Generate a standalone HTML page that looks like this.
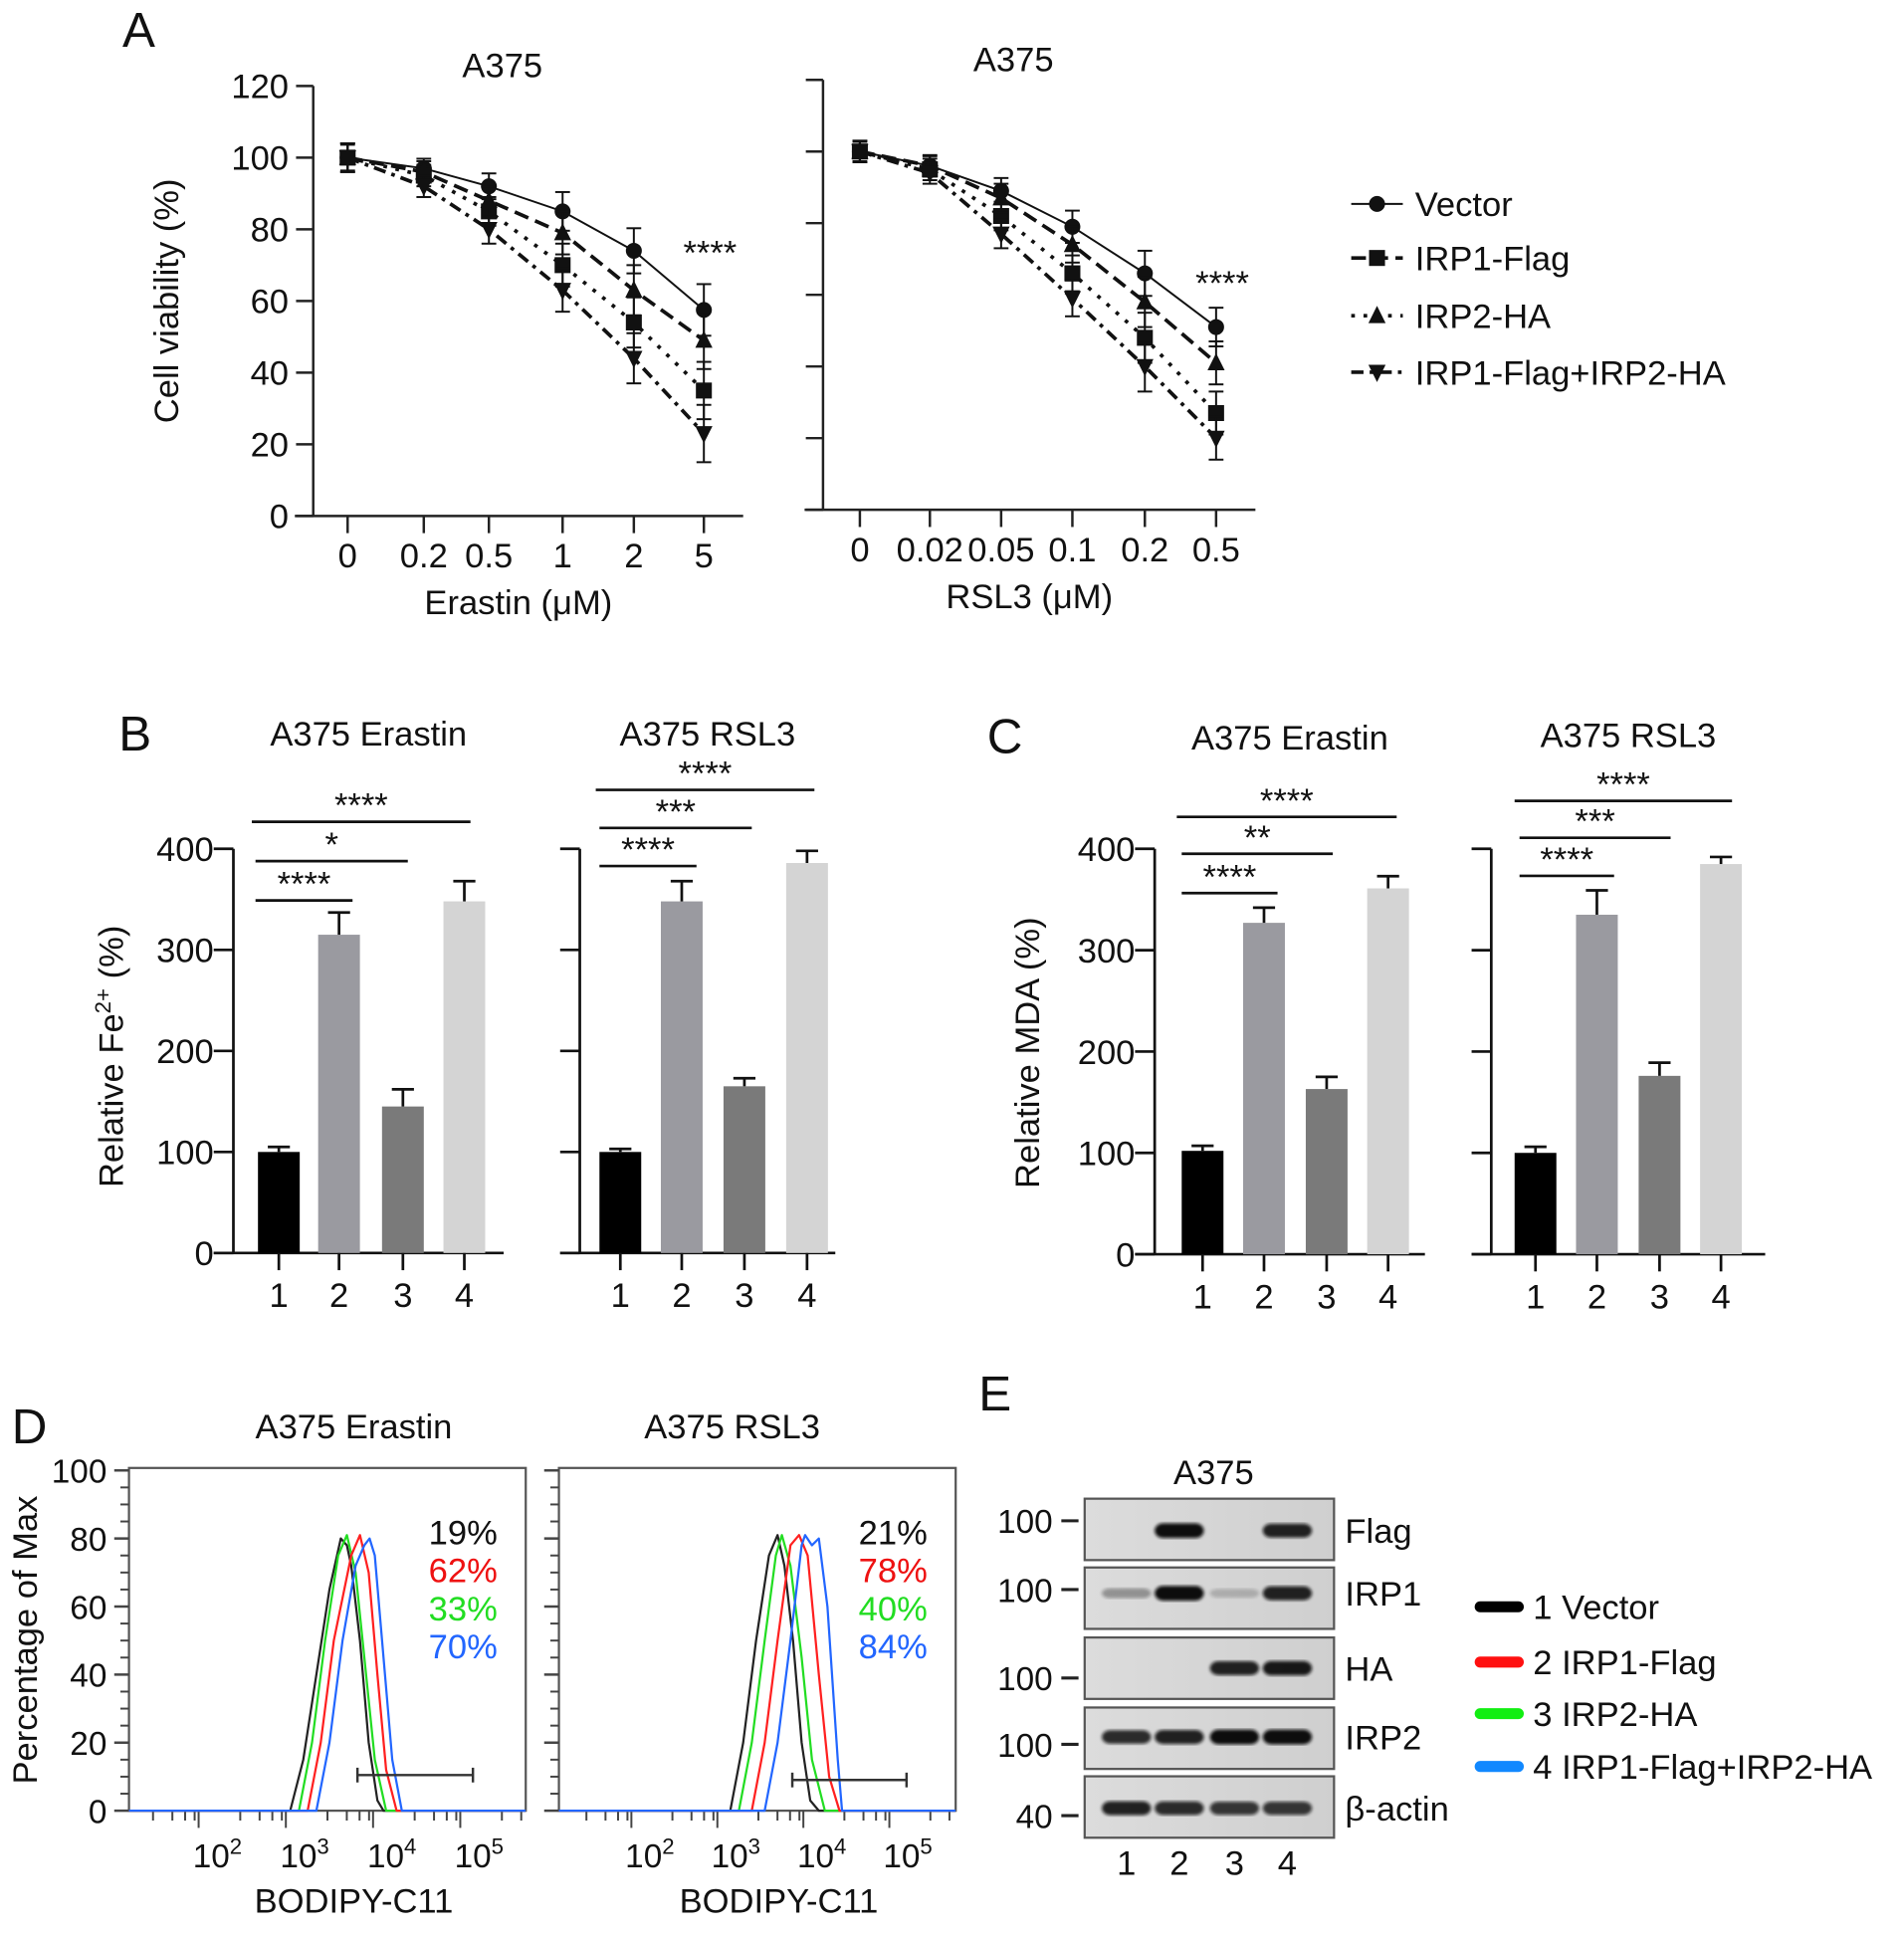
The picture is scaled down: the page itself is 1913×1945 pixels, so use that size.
<!DOCTYPE html>
<html><head><meta charset="utf-8"><style>
html,body{margin:0;padding:0;background:#fff;}
svg{display:block;font-family:"Liberation Sans",Arial,sans-serif;}
</style></head><body>
<svg id="fig" width="1913" height="1945" viewBox="0 0 1550 1576" preserveAspectRatio="none" xmlns="http://www.w3.org/2000/svg">
<defs>
<linearGradient id="blotbg" x1="0" y1="0" x2="1" y2="0"><stop offset="0" stop-color="#dcdcdc"/><stop offset="1" stop-color="#cfcfcf"/></linearGradient>
<filter id="blur"><feGaussianBlur stdDeviation="1.4"/></filter>
</defs>
</svg>
<script>
// ---------- Panel A data ----------
const aDoseErastin = ["0","0.2","0.5","1","2","5"];
const aDoseRSL3 = ["0","0.02","0.05","0.1","0.2","0.5"];
const aSeriesNames = ["Vector","IRP1-Flag","IRP2-HA","IRP1-Flag+IRP2-HA"];
const aErVector = [100,97,92,85,74,57.5];
const aErFlag = [100,95,85,70,54,35];
const aErHA = [100,96,88,79,63,49];
const aErBoth = [100,92,80,63,44,23];
const aErErr = [4,3,4,6,7,8];
const aRsVector = [100,96,89,79,66,51];
const aRsFlag = [100,95,82,66,48,27];
const aRsHA = [100,96,87,74,58,41];
const aRsBoth = [100,94,77,59,40,20];
const aRsErr = [3,3,4,5,7,6];
const aYTicks = [0,20,40,60,80,100,120];
// ---------- Panel B / C data ----------
const barGroups = ["1","2","3","4"];
const bErastin = [100,315,145,348];
const bErastinErr = [5,22,17,20];
const bRSL3 = [100,348,165,386];
const bRSL3Err = [3,20,8,12];
const cErastin = [102,327,163,361];
const cErastinErr = [5,15,12,12];
const cRSL3 = [100,335,176,385];
const cRSL3Err = [6,24,13,7];
const barYTicks = [0,100,200,300,400];
// ---------- Panel D data (log10 intensity, % of max) ----------
const dErLog = {
 k:[2.75,2.9,3.05,3.2,3.33,3.4,3.45,3.55,3.65,3.75,3.82],
 g:[2.85,3.0,3.15,3.3,3.4,3.5,3.6,3.72,3.85],
 r:[2.95,3.1,3.25,3.45,3.55,3.65,3.75,3.85,3.97],
 b:[3.05,3.2,3.35,3.5,3.6,3.66,3.72,3.82,3.92,4.03]};
const dErPct = {
 k:[0,15,40,65,80,78,72,50,20,3,0],
 g:[0,20,50,75,81,70,45,15,0],
 r:[0,20,50,75,81,70,40,12,0],
 b:[0,20,50,72,78,80,75,45,15,0]};
const dRsLog = {
 k:[2.85,3.0,3.15,3.3,3.4,3.48,3.58,3.68,3.78,3.88],
 g:[2.95,3.1,3.25,3.38,3.45,3.55,3.68,3.8,3.95],
 r:[3.1,3.25,3.4,3.55,3.65,3.75,3.88,4.0,4.12],
 b:[3.25,3.4,3.55,3.68,3.72,3.8,3.88,3.98,4.1,4.15]};
const dRsPct = {
 k:[0,20,50,75,81,72,50,20,3,0],
 g:[0,20,50,75,81,72,45,15,0],
 r:[0,20,50,78,81,75,40,10,0],
 b:[0,20,50,78,81,78,80,60,15,0]};
const dErLabels = ["19%","62%","33%","70%"];
const dRsLabels = ["21%","78%","40%","84%"];
const dColors = {k:"#222",r:"#ff2020",g:"#22dd22",b:"#2266ff"};
// ---------- Panel E data ----------
const blotNames = ["Flag","IRP1","HA","IRP2","β-actin"];
const blotMarkers = ["100","100","100","100","40"];
const blotIntensity = [[0,1,0,0.9],[0.35,1,0.2,0.9],[0,0,0.9,0.95],[0.85,0.9,1,1],[0.9,0.85,0.8,0.8]];
const legendE = ["1 Vector","2 IRP1-Flag","3 IRP2-HA","4 IRP1-Flag+IRP2-HA"];
const legendEColors = ["#000","#ff1010","#11ee11","#1188ff"];

const svg = document.getElementById('fig');
const NS = "http://www.w3.org/2000/svg";
function mk(tag, attrs, parent){const e=document.createElementNS(NS,tag);for(const k in attrs)e.setAttribute(k,attrs[k]);(parent||svg).appendChild(e);return e;}
function txt(x,y,s,size,anchor,parent,fill){const t=mk('text',{x:x,y:y,'font-size':size,'text-anchor':anchor||'middle',fill:fill||'#111'},parent);t.textContent=s;return t;}
function grp(name){const g=mk('g',{});return g;}

// Panel letters
[["A",113,38],["B",110,611],["C",818,613],["D",24,1175],["E",810,1148]].forEach(p=>{
 const t=txt(p[1],p[2],p[0],40,'middle');
 
 
});

// ---------- Panel A ----------
const lineDashes=['none','3,7','12,6','10,5,3,5'];
const legendDashes=['none','12,6','3,7','10,5,3,5'];
function lineChart(name, ox, y0, yTop, xPos, xLabels, series, errs, title, xlabel, showY, starY){
 const g=grp(name);
 const ys=v=>y0-(v/120)*(y0-yTop);
 mk('line',{x1:ox,y1:yTop,x2:ox,y2:y0,stroke:'#222','stroke-width':2},g);
 mk('line',{x1:ox-15,y1:y0,x2:xPos[xPos.length-1]+32,y2:y0,stroke:'#222','stroke-width':2},g);
 aYTicks.forEach(v=>{mk('line',{x1:ox-14,y1:ys(v),x2:ox,y2:ys(v),stroke:'#222','stroke-width':2},g);
  if(showY){const t=txt(ox-20,ys(v)+10,String(v),28,'end',g);}});
 xLabels.forEach((l,i)=>{mk('line',{x1:xPos[i],y1:y0,x2:xPos[i],y2:y0+14,stroke:'#222','stroke-width':2},g);
  const t=txt(xPos[i],y0+42,l,28,'middle',g);});
 const markers=['circle','square','tri','itri'];
 series.forEach((s,si)=>{
  const pts=s.map((v,i)=>xPos[i]+','+ys(v)).join(' ');
  const pl=mk('polyline',{points:pts,fill:'none',stroke:'#111','stroke-width':si==0?1.6:3,'stroke-dasharray':lineDashes[si]},g);
  
  
  s.forEach((v,i)=>{
   const x=xPos[i],y=ys(v),e=errs[i]*(si==0?0.9:1);
   mk('line',{x1:x,y1:ys(v+e),x2:x,y2:ys(v-e),stroke:'#111','stroke-width':1.6},g);
   mk('line',{x1:x-6,y1:ys(v+e),x2:x+6,y2:ys(v+e),stroke:'#111','stroke-width':1.6},g);
   mk('line',{x1:x-6,y1:ys(v-e),x2:x+6,y2:ys(v-e),stroke:'#111','stroke-width':1.6},g);
   let m;
   if(markers[si]=='circle')m=mk('circle',{cx:x,cy:y,r:6.5,fill:'#111'},g);
   else if(markers[si]=='square')m=mk('rect',{x:x-6.5,y:y-6.5,width:13,height:13,fill:'#111'},g);
   else if(markers[si]=='tri')m=mk('polygon',{points:`${x},${y-8} ${x-7},${y+6} ${x+7},${y+6}`,fill:'#111'},g);
   else m=mk('polygon',{points:`${x},${y+8} ${x-7},${y-6} ${x+7},${y-6}`,fill:'#111'},g);
   
  });
 });
 const tt=txt((ox+xPos[xPos.length-1])/2-5,yTop-7,title,28,'middle',g);
 
 const xl=txt((ox+xPos[xPos.length-1])/2+8,y0+80,xlabel,28,'middle',g);
 
 const st=txt(xPos[5]+5,starY,'****',28,'middle',g);
 
}
lineChart('erastin-viability-chart',255,420,70,[283,345,398,458,516,573],aDoseErastin,[aErVector,aErFlag,aErHA,aErBoth],aErErr,'A375','Erastin (μM)',true,215);
lineChart('rsl3-viability-chart',670,415,65,[700,757,815,873,932,990],aDoseRSL3,[aRsVector,aRsFlag,aRsHA,aRsBoth],aRsErr,'A375','RSL3 (μM)',false,240);
{const t=txt(145,245,'Cell viability (%)',28,'middle');t.setAttribute('transform','rotate(-90 145 245)');
 }
// legend A
{const g=grp('legend');
 [166,210,257,303].forEach((y,i)=>{
  mk('line',{x1:1100,y1:y,x2:1142,y2:y,stroke:'#111','stroke-width':i==0?1.6:3,'stroke-dasharray':legendDashes[i]},g);
  const x=1121;
  if(i==0)mk('circle',{cx:x,cy:y,r:6.5,fill:'#111'},g);
  else if(i==1)mk('rect',{x:x-6.5,y:y-6.5,width:13,height:13,fill:'#111'},g);
  else if(i==2)mk('polygon',{points:`${x},${y-8} ${x-7},${y+6} ${x+7},${y+6}`,fill:'#111'},g);
  else mk('polygon',{points:`${x},${y+8} ${x-7},${y-6} ${x+7},${y-6}`,fill:'#111'},g);
  const t=txt(1152,y+10,aSeriesNames[i],28,'start',g);
  
 });}

// ---------- Bar charts ----------
const barColors=['#000','#9a9aa0','#7a7a7a','#d4d4d4'];
function barChart(name,ox,xEnd,y0,y400,xPos,vals,errs,title,showY,sig){
 const g=grp(name);
 const ys=v=>y0-(v/400)*(y0-y400);
 mk('line',{x1:ox,y1:y400,x2:ox,y2:y0,stroke:'#111','stroke-width':2.2},g);
 mk('line',{x1:ox-16,y1:y0,x2:xEnd,y2:y0,stroke:'#111','stroke-width':2.2},g);
 barYTicks.forEach(v=>{mk('line',{x1:ox-16,y1:ys(v),x2:ox,y2:ys(v),stroke:'#111','stroke-width':2.2},g);
  if(showY){const t=txt(ox-16,ys(v)+10,String(v),28,'end',g);}});
 vals.forEach((v,i)=>{
  const x=xPos[i];
  const r=mk('rect',{x:x-17,y:ys(v),width:34,height:y0-ys(v),fill:barColors[i]},g);
  
  mk('line',{x1:x,y1:ys(v),x2:x,y2:ys(v+errs[i]),stroke:'#111','stroke-width':2.2},g);
  mk('line',{x1:x-9,y1:ys(v+errs[i]),x2:x+9,y2:ys(v+errs[i]),stroke:'#111','stroke-width':2.2},g);
  mk('line',{x1:x,y1:y0,x2:x,y2:y0+14,stroke:'#111','stroke-width':2.2},g);
  const t=txt(x,y0+44,barGroups[i],28,'middle',g);
 });
 sig.forEach(s=>{
  mk('line',{x1:s[1],y1:s[0],x2:s[2],y2:s[0],stroke:'#111','stroke-width':2.2},g);
  const t=txt((s[1]+s[2])/2,s[0]-4,s[3],28,'middle',g);
 });
 const tt=txt((ox+xEnd)/2,title[1],title[0],28,'middle',g);
}
barChart('fe-erastin-chart',190,410,1020,691,[227,276,328,378],bErastin,bErastinErr,['A375 Erastin',607],true,[[733,208,287,'****'],[701,208,332,'*'],[669,205,383,'****']]);
barChart('fe-rsl3-chart',472,680,1020,691,[505,555,606,657],bRSL3,bRSL3Err,['A375 RSL3',607],false,[[705,488,567,'****'],[674,488,612,'***'],[643,485,663,'****']]);
barChart('mda-erastin-chart',940,1160,1021,691,[979,1029,1080,1130],cErastin,cErastinErr,['A375 Erastin',610],true,[[727,962,1040,'****'],[695,962,1085,'**'],[665,958,1137,'****']]);
barChart('mda-rsl3-chart',1214,1437,1021,691,[1250,1300,1351,1401],cRSL3,cRSL3Err,['A375 RSL3',608],false,[[713,1237,1314,'****'],[682,1237,1360,'***'],[652,1233,1410,'****']]);
{const t=mk('text',{x:0,y:0,'font-size':28,'text-anchor':'middle',fill:'#111',transform:'translate(100 860) rotate(-90)'});
 t.innerHTML='Relative Fe<tspan dy="-10" font-size="18">2+</tspan><tspan dy="10"> (%)</tspan>';
 }
{const t=txt(0,0,'Relative MDA (%)',28,'middle');t.setAttribute('transform','translate(846 857) rotate(-90)');
 }

// ---------- Panel D ----------
function flowChart(name,bx,bx2,logX,logs,pcts,labels,gate,title,showY){
 const g=grp(name);
 const yT=1197,y0=1474;
 const ys=p=>y0-(p/100)*(y0-yT);
 const xs=l=>logX[0]+(l-2)*(logX[1]-logX[0]);
 mk('rect',{x:bx,y:yT-2,width:bx2-bx,height:y0-yT+2,fill:'none',stroke:'#555','stroke-width':1.8},g);
 for(let p=0;p<=100;p+=5){const major=p%20==0;
  mk('line',{x1:bx-(major?12:7),y1:ys(p),x2:bx,y2:ys(p),stroke:'#444','stroke-width':major?2:1.6},g);
  if(showY&&major){const t=txt(bx-18,ys(p)+10,String(p),27,'end',g);}}
 for(let d=0;d<5;d++)for(let k=1;k<10;k++){if(k%2==0&&k!=1)continue;const l=0.7+d+Math.log10(k);const x=xs(l);if(x<bx||x>bx2-3)continue;
  mk('line',{x1:x,y1:y0,x2:x,y2:y0+(k==1?14:8),stroke:'#444','stroke-width':1.6},g);}
 [2,3,4,5].forEach(p=>{const t=mk('text',{x:xs(p)-6,y:y0+46,'font-size':27,'text-anchor':'middle',fill:'#111'},g);
  t.innerHTML='10<tspan dy="-11" font-size="18">'+p+'</tspan>';});
 ['k','g','r','b'].forEach(c=>{
  const pts=[[bx,y0]].concat(logs[c].map((l,i)=>[xs(l),ys(pcts[c][i])])).concat([[bx2,y0]]);
  const pl=mk('polyline',{points:pts.map(p=>p.join(',')).join(' '),fill:'none',stroke:dColors[c],'stroke-width':1.8,'stroke-linejoin':'round'},g);
  
 });
 mk('line',{x1:gate[0],y1:gate[2],x2:gate[1],y2:gate[2],stroke:'#333','stroke-width':2},g);
 mk('line',{x1:gate[0],y1:gate[2]-6,x2:gate[0],y2:gate[2]+6,stroke:'#333','stroke-width':2},g);
 mk('line',{x1:gate[1],y1:gate[2]-6,x2:gate[1],y2:gate[2]+6,stroke:'#333','stroke-width':2},g);
 ['#111','#ee1111','#22dd22','#2266ff'].forEach((col,i)=>{const t=txt(bx2-23,1257+i*31,labels[i],28,'end',g,col);
  });
 const tt=txt(title[1],1171,title[0],28,'middle',g);
 const xl=txt(title[2],1557,'BODIPY-C11',28,'middle',g);
}
flowChart('bodipy-erastin-histogram',105,428,[183,254],dErLog,dErPct,dErLabels,[291,385,1445],['A375 Erastin',288,288],true);
flowChart('bodipy-rsl3-histogram',455,778,[535,605],dRsLog,dRsPct,dRsLabels,[645,738,1449],['A375 RSL3',596,634],false);
{const t=txt(0,0,'Percentage of Max',28,'middle');t.setAttribute('transform','translate(30 1335) rotate(-90)');
 }

// ---------- Panel E ----------
{const g=grp('western-blot');
 const t0=txt(988,1208,'A375',28,'middle',g);
 const lanes=[917,960,1005,1048];
 const tops=[1220,1276,1333,1390,1446];
 const markerY=[1238,1294,1366,1420,1478];
 const bandY=[1246,1297,1358,1414,1472];
 blotNames.forEach((n,i)=>{
  const r=mk('rect',{x:883,y:tops[i],width:203,height:50,fill:'url(#blotbg)',stroke:'#555','stroke-width':1.8},g);
  
  blotIntensity[i].forEach((v,j)=>{if(v<=0)return;
   const b=mk('rect',{x:lanes[j]-20,y:bandY[i]-(3+3*v),width:40,height:6+6*v,rx:7,fill:'#111',opacity:v,filter:'url(#blur)'},g);
   });
  mk('line',{x1:864,y1:markerY[i],x2:878,y2:markerY[i],stroke:'#222','stroke-width':2.5},g);
  const m=txt(857,markerY[i]+10,blotMarkers[i],27,'end',g);
  const l=txt(1095,bandY[i]+10,n,28,'start',g);
 });
 lanes.forEach((x,j)=>{const t=txt(x,1526,String(j+1),28,'middle',g);});
 [1308,1353,1395,1438].forEach((y,i)=>{
  mk('line',{x1:1205,y1:y,x2:1236,y2:y,stroke:legendEColors[i],'stroke-width':9,'stroke-linecap':'round'},g);
  const t=txt(1248,y+10,legendE[i],28,'start',g);
 });}
</script>
</body></html>
